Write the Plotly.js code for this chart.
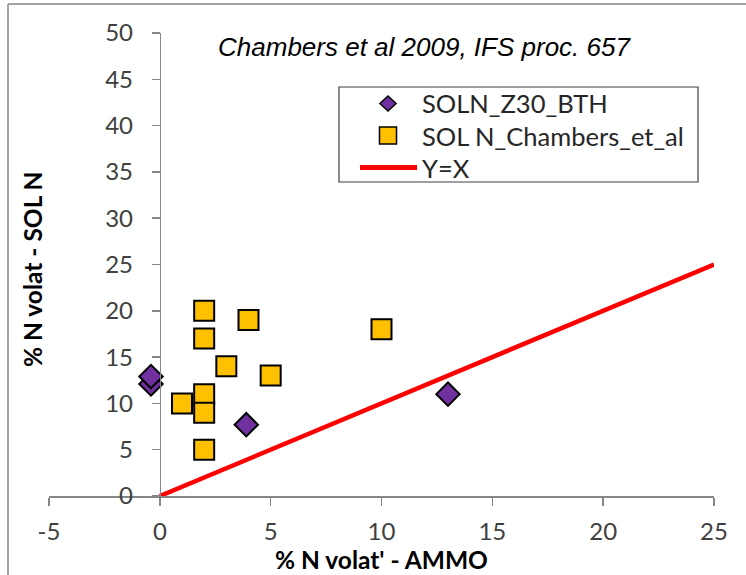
<!DOCTYPE html>
<html>
<head>
<meta charset="utf-8">
<script src="https://cdn.plot.ly/plotly-3.0.1.min.js"></script>
<style>html,body{margin:0;padding:0;background:#fff;overflow:hidden}#chart{width:746px;height:575px}</style>
</head>
<body>
<div id="chart"></div>
<script>
// Data
const btTitle = "SOLN_Z30_BTH";
const btX = [-0.4, -0.4, 3.9, 13];
const btY = [12.1, 12.9, 7.7, 11];

const chTitle = "SOL N_Chambers_et_al";
const chX = [2, 2, 4, 3, 5, 10, 1, 2, 2, 2];
const chY = [20, 17, 19, 14, 13, 18, 10, 11, 9, 5];

const lineTitle = "Y=X";
const lineX = [0, 25];
const lineY = [0, 25];

const xTicks = [-5, 0, 5, 10, 15, 20, 25];
const yTicks = [0, 5, 10, 15, 20, 25, 30, 35, 40, 45, 50];

const chartTitle = "Chambers et al 2009, IFS proc. 657";
const xTitle = "% N volat' - AMMO";
const yTitle = "% N volat - SOL N";

// Styles
const FONT = "Lato, 'Open Sans', sans-serif";
const purple = "#7030A0", gold = "#FFC000", red = "#FF0000", axisGray = "#868686";
const tickFont = {family: FONT, size: 24, color: "#404040"};
const axisTitleFont = {family: FONT, size: 24.5, color: "#000", weight: "bold"};
const legendFont = {family: FONT, size: 25.5, color: "#262626"};

const traces = [
  {
    x: lineX, y: lineY, name: lineTitle, type: "scatter", mode: "lines",
    line: {color: red, width: 4.5}, hoverinfo: "skip"
  },
  {
    x: btX, y: btY, name: btTitle, type: "scatter", mode: "markers",
    marker: {symbol: "diamond", size: 18, color: purple, line: {color: "#000", width: 2}}
  },
  {
    x: chX, y: chY, name: chTitle, type: "scatter", mode: "markers",
    marker: {symbol: "square", size: 20, color: gold, line: {color: "#000", width: 2}}
  }
];

const L = 49, R = 32, T = 33, B = 79;
const W = 746, H = 575;
const pw = W - L - R, ph = H - T - B;
const px = v => (v - L) / pw;   // pixel -> paper x
const py = v => (H - B - v) / ph; // pixel -> paper y

// Legend layout (pixel positions)
const lg = {x0: 339, y0: 87, x1: 698, y1: 182, symX: 388, textX: 420, rows: [103.5, 135.5, 167.5]};
const legendNames = [btTitle, chTitle, lineTitle];

const shapes = [
  // outer chart border (left & top visible)
  {type: "line", xref: "paper", yref: "paper", x0: px(8), x1: px(8), y0: py(4), y1: py(600),
   line: {color: axisGray, width: 1.5}},
  {type: "line", xref: "paper", yref: "paper", x0: px(8), x1: px(760), y0: py(4), y1: py(4),
   line: {color: axisGray, width: 1.5}},
  // legend box
  {type: "rect", xref: "paper", yref: "paper", x0: px(lg.x0), x1: px(lg.x1), y0: py(lg.y0), y1: py(lg.y1),
   fillcolor: "#fff", line: {color: "#404040", width: 1.2}, layer: "above"},
  // legend diamond
  {type: "path", xref: "paper", yref: "paper", layer: "above",
   path: `M ${px(lg.symX)} ${py(lg.rows[0] - 7.5)} L ${px(lg.symX + 8)} ${py(lg.rows[0])} L ${px(lg.symX)} ${py(lg.rows[0] + 7.5)} L ${px(lg.symX - 8)} ${py(lg.rows[0])} Z`,
   fillcolor: purple, line: {color: "#000", width: 1.5}},
  // legend square
  {type: "rect", xref: "paper", yref: "paper", layer: "above",
   x0: px(lg.symX - 8.5), x1: px(lg.symX + 8.5), y0: py(lg.rows[1] - 8.5), y1: py(lg.rows[1] + 8.5),
   fillcolor: gold, line: {color: "#000", width: 1.5}},
  // legend line
  {type: "line", xref: "paper", yref: "paper", layer: "above",
   x0: px(360), x1: px(417), y0: py(lg.rows[2]), y1: py(lg.rows[2]),
   line: {color: red, width: 5}}
];

const annotations = [
  {text: yTitle, textangle: -90, showarrow: false, xref: "paper", yref: "paper",
   x: px(32), y: py(270), xanchor: "center", yanchor: "middle", font: axisTitleFont},
  {text: xTitle, showarrow: false, xref: "paper", yref: "paper", borderpad: 0,
   x: px(381), y: py(559), xanchor: "center", yanchor: "middle", font: axisTitleFont}
].concat(legendNames.map((n, i) => ({
  text: n, showarrow: false, xref: "paper", yref: "paper",
  x: px(lg.textX), y: py(lg.rows[i]), xanchor: "left", yanchor: "middle", font: legendFont
})));

const layout = {
  width: W, height: H,
  margin: {l: L, r: R, t: T, b: B, pad: 0},
  paper_bgcolor: "#fff", plot_bgcolor: "#fff",
  showlegend: false,
  title: {
    text: chartTitle,
    font: {family: "'Liberation Sans', Arial, sans-serif", size: 26, color: "#000", style: "italic"},
    x: 424 / W, xanchor: "center", xref: "container",
    y: 1 - 47 / H, yanchor: "middle", yref: "container"
  },
  xaxis: {
    range: [-5, 25], tickvals: xTicks, ticktext: xTicks.map(String),
    showgrid: false, zeroline: false,
    showline: true, linecolor: axisGray, linewidth: 1.5,
    ticks: "outside", ticklen: 8, tickcolor: axisGray, tickwidth: 1.5,
    tickfont: tickFont, ticklabelstandoff: 6,
    fixedrange: true
  },
  yaxis: {
    range: [0, 50], tickvals: yTicks, ticktext: yTicks.map(String),
    showgrid: false, zeroline: false,
    showline: true, linecolor: axisGray, linewidth: 1.5,
    ticks: "outside", ticklen: 8, tickcolor: axisGray, tickwidth: 1.5,
    tickfont: tickFont, ticklabelstandoff: 14,
    anchor: "free", position: 5 / 30,
    fixedrange: true
  },
  annotations: annotations,
  shapes: shapes
};

Plotly.newPlot("chart", traces, layout, {staticPlot: true, displayModeBar: false});
</script>
</body>
</html>
